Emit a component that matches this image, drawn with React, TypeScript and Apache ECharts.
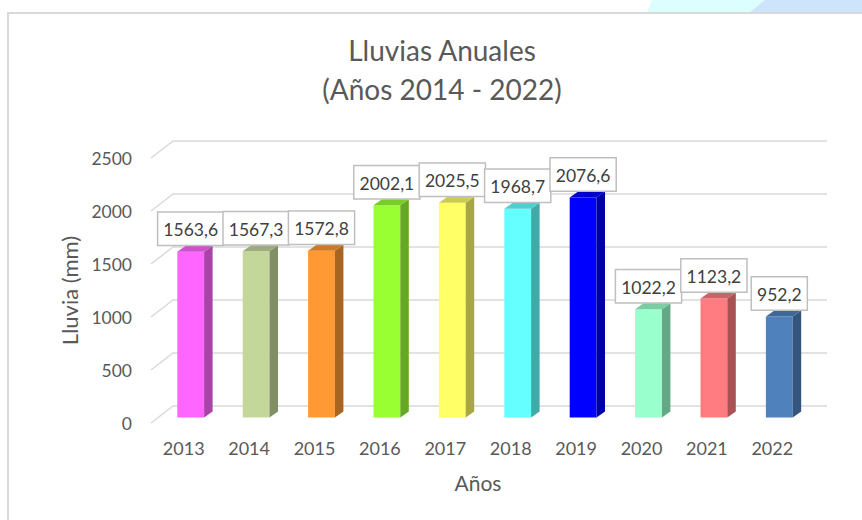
import React, { useEffect, useRef } from "react";
import * as echarts from "echarts";

const years = ["2013", "2014", "2015", "2016", "2017", "2018", "2019", "2020", "2021", "2022"];
const rainfall = [1563.6, 1567.3, 1572.8, 2002.1, 2025.5, 1968.7, 2076.6, 1022.2, 1123.2, 952.2];
const barColors = ["#ff66ff", "#c4d79b", "#ff9933", "#99ff33", "#ffff66", "#66ffff", "#0000ff", "#99ffcc", "#ff7c80", "#4f81bd"];
const yTicks = [0, 500, 1000, 1500, 2000, 2500];

const FONT = "Lato, 'Open Sans', sans-serif";
const WALL_DX = 22;
const WALL_DY = -17;
const BAR_OFF_X = 7;
const BAR_OFF_Y = -5.5;
const BAR_DEPTH_X = 8.5;
const BAR_DEPTH_Y = -6;

function shade(hex: string, f: number): string {
  const n = parseInt(hex.slice(1), 16);
  const r = Math.round(((n >> 16) & 255) * f);
  const g = Math.round(((n >> 8) & 255) * f);
  const b = Math.round((n & 255) * f);
  return `rgb(${r},${g},${b})`;
}

function fmt(v: number): string {
  return v.toFixed(1).replace(".", ",");
}

export default function App() {
  const ref = useRef<HTMLDivElement>(null);
  useEffect(() => {
    if (!ref.current) return;
    const chart = echarts.init(ref.current, undefined, { renderer: "svg" });
    const barData = rainfall.map((v, i) => [i, v]);
    const option: any = {
      animation: false,
      backgroundColor: "#ffffff",
      grid: { left: 151, right: 57, top: 158, bottom: 97 },
      graphic: [
        {
          type: "polygon",
          shape: { points: [[647, 12], [652, 0], [765, 0], [750, 12]] },
          style: { fill: "#ddfeff" },
          silent: true,
        },
        {
          type: "polygon",
          shape: { points: [[750, 12], [765, 0], [862, 0], [862, 12]] },
          style: { fill: "#cde5fa" },
          silent: true,
        },
        {
          type: "line",
          shape: { x1: 7, y1: 13, x2: 862, y2: 13 },
          style: { stroke: "#d9d9d9", lineWidth: 2 },
          silent: true,
        },
        {
          type: "line",
          shape: { x1: 8, y1: 12, x2: 8, y2: 520 },
          style: { stroke: "#d9d9d9", lineWidth: 2 },
          silent: true,
        },
        {
          type: "text",
          x: 442,
          y: 50,
          style: {
            text: "Lluvias Anuales",
            align: "center",
            verticalAlign: "middle",
            fill: "#595959",
            font: `28px ${FONT}`,
          },
        },
        {
          type: "text",
          x: 442,
          y: 89,
          style: {
            text: "(Años 2014 - 2022)",
            align: "center",
            verticalAlign: "middle",
            fill: "#595959",
            font: `28px ${FONT}`,
          },
        },
      ],
      xAxis: {
        type: "category",
        data: years,
        axisLine: { show: false },
        axisTick: { show: false },
        splitLine: { show: false },
        axisLabel: { color: "#595959", fontSize: 18, fontFamily: FONT, margin: 16 },
        name: "Años",
        nameLocation: "middle",
        nameGap: 49,
        nameTextStyle: { color: "#595959", fontSize: 21, fontFamily: FONT },
      },
      yAxis: {
        type: "value",
        min: 0,
        max: 2500,
        interval: 500,
        axisLine: { show: false },
        axisTick: { show: false },
        splitLine: { show: false },
        axisLabel: {
          color: "#595959",
          fontSize: 17.5,
          fontFamily: FONT,
          margin: 19,
          formatter: (v: number) => String(v),
        },
        name: "Lluvia (mm)",
        nameLocation: "middle",
        nameRotate: 90,
        nameGap: 66,
        nameTextStyle: { color: "#595959", fontSize: 22, fontFamily: FONT },
      },
      series: [
        {
          type: "custom",
          name: "grid",
          silent: true,
          data: yTicks.map((t) => [0, t]),
          renderItem: (params: any, api: any) => {
            const cs = params.coordSys;
            const y = api.coord([0, api.value(1)])[1];
            const xl = cs.x;
            const xr = cs.x + cs.width;
            return {
              type: "polyline",
              shape: {
                points: [
                  [xl, y],
                  [xl + WALL_DX, y + WALL_DY],
                  [xr + WALL_DX, y + WALL_DY],
                ],
              },
              style: { stroke: "#d9d9d9", lineWidth: 1.5, fill: "none" },
            };
          },
        },
        {
          type: "custom",
          name: "Lluvia",
          data: barData,
          renderItem: (params: any, api: any) => {
            const i = api.value(0);
            const v = api.value(1);
            const base = api.coord([i, 0]);
            const top = api.coord([i, v]);
            const band = api.size([1, 0])[0];
            const w = band * 0.41;
            const fx = base[0] + BAR_OFF_X - w / 2;
            const fy0 = base[1] + BAR_OFF_Y;
            const fyt = top[1] + BAR_OFF_Y;
            const c = barColors[i];
            return {
              type: "group",
              children: [
                {
                  type: "rect",
                  shape: { x: fx, y: fyt, width: w, height: fy0 - fyt },
                  style: { fill: c },
                },
                {
                  type: "polygon",
                  shape: {
                    points: [
                      [fx + w, fyt],
                      [fx + w + BAR_DEPTH_X, fyt + BAR_DEPTH_Y],
                      [fx + w + BAR_DEPTH_X, fy0 + BAR_DEPTH_Y],
                      [fx + w, fy0],
                    ],
                  },
                  style: { fill: shade(c, 0.66) },
                },
                {
                  type: "polygon",
                  shape: {
                    points: [
                      [fx, fyt],
                      [fx + BAR_DEPTH_X, fyt + BAR_DEPTH_Y],
                      [fx + w + BAR_DEPTH_X, fyt + BAR_DEPTH_Y],
                      [fx + w, fyt],
                    ],
                  },
                  style: { fill: shade(c, 0.8) },
                },
              ],
            };
          },
        },
        {
          type: "custom",
          name: "labels",
          silent: true,
          data: barData,
          renderItem: (params: any, api: any) => {
            const i = api.value(0);
            const v = api.value(1);
            const base = api.coord([i, 0]);
            const top = api.coord([i, v]);
            const cx = base[0] + BAR_OFF_X;
            const by = top[1] + BAR_OFF_Y - 7;
            return {
              type: "text",
              x: cx,
              y: by,
              style: {
                text: fmt(rainfall[i]),
                align: "center",
                verticalAlign: "bottom",
                fill: "#404040",
                font: `17.5px ${FONT}`,
                lineHeight: 20,
                backgroundColor: "#ffffff",
                borderColor: "#bfbfbf",
                borderWidth: 1.5,
                padding: [7, 5, 5, 5],
              },
            };
          },
        },
      ],
    };
    chart.setOption(option);
    return () => chart.dispose();
  }, []);
  return (
    <div
      ref={ref}
      style={{ position: "fixed", left: 0, top: 0, width: 862, height: 520, background: "#fff" }}
    />
  );
}
